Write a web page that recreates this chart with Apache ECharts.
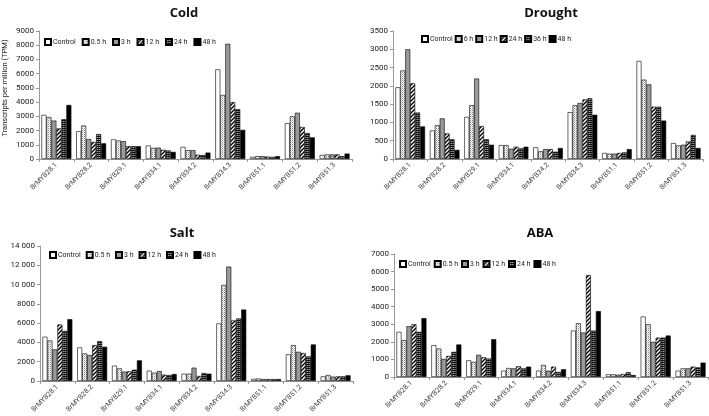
<!DOCTYPE html>
<html><head><meta charset="utf-8">
<script src="https://cdn.jsdelivr.net/npm/echarts@6/dist/echarts.min.js"></script>
<style>html,body{margin:0;padding:0;background:#fff}#c{width:709px;height:416px}</style>
</head><body><div id="c"></div><script>
// ---------- data ----------
const categories = ['BrMYB28.1','BrMYB28.2','BrMYB29.1','BrMYB34.1','BrMYB34.2','BrMYB34.3','BrMYB51.1','BrMYB51.2','BrMYB51.3'];

const coldNames = ['Control','0.5 h','3 h','12 h','24 h','48 h'];
const coldControl = [3100,1950,1380,950,850,6300,150,2520,280];
const cold05h     = [2950,2350,1300,780,620,4500,200,3000,320];
const cold3h      = [2700,1400,1250,800,620,8100,200,3250,320];
const cold12h     = [2150,1200,900,650,300,4000,170,2250,320];
const cold24h     = [2800,1750,900,600,280,3500,150,1830,200];
const cold48h     = [3800,1100,900,500,450,2050,200,1520,380];

const droughtNames = ['Control','6 h','12 h','24 h','36 h','48 h'];
const droughtControl = [1960,780,1150,380,320,1280,165,2680,435];
const drought6h      = [2420,925,1470,380,210,1470,145,2170,370];
const drought12h     = [3000,1110,2200,280,270,1530,145,2040,390];
const drought24h     = [2070,700,900,335,270,1630,165,1430,480];
const drought36h     = [1270,540,540,290,200,1660,180,1430,660];
const drought48h     = [890,250,390,335,300,1210,270,1050,300];

const saltNames = ['Control','0.5 h','3 h','12 h','24 h','48 h'];
const saltControl = [4590,3480,1590,1070,760,5970,220,2760,480];
const salt05h     = [4200,2860,1310,860,760,9970,250,3720,620];
const salt3h      = [3280,2690,970,1030,1380,11860,200,3030,450];
const salt12h     = [5860,3720,1000,650,520,6280,200,2900,480];
const salt24h     = [5200,4140,1170,620,830,6480,200,2550,480];
const salt48h     = [6410,3550,2140,720,760,7410,200,3790,590];

const abaNames = ['Control','0.5 h','3 h','12 h','24 h','48 h'];
const abaControl = [2570,1810,950,360,360,2640,150,3440,360];
const aba05h     = [2090,1620,860,510,690,3060,150,3000,490];
const aba3h      = [2890,1030,1260,490,360,2530,130,2000,490];
const aba12h     = [3000,1200,1120,610,590,5800,170,2240,590];
const aba24h     = [2570,1430,1050,490,285,2640,270,2240,550];
const aba48h     = [3350,1850,2150,590,440,3750,110,2360,820];

const coldTicks = {max:9000, interval:1000};
const droughtTicks = {max:3500, interval:500};
const saltTicks = {max:14000, interval:2000};
const abaTicks = {max:7000, interval:1000};

// ---------- patterns ----------
function tile(w,h,draw){const c=document.createElement('canvas');c.width=w;c.height=h;const x=c.getContext('2d');draw(x,w,h);return {image:c,repeat:'repeat'};}
const patWhite = '#ffffff';
const patDots = tile(2,2,(x)=>{x.fillStyle='#fff';x.fillRect(0,0,2,2);x.fillStyle='#8a8a8a';x.fillRect(0,0,1,1);x.fillStyle='#d0d0d0';x.fillRect(1,1,1,1);});
const patGray = '#9a9a9a';
const patDiag = tile(4,4,(x)=>{x.fillStyle='#fff';x.fillRect(0,0,4,4);x.strokeStyle='#000';x.lineWidth=1.4;x.beginPath();x.moveTo(-1,5);x.lineTo(5,-1);x.moveTo(-1,1);x.lineTo(1,-1);x.moveTo(3,5);x.lineTo(5,3);x.stroke();});
const patCheck = tile(2,2,(x)=>{x.fillStyle='#111';x.fillRect(0,0,2,2);x.fillStyle='#9a9a9a';x.fillRect(1,1,1,1);x.fillStyle='#555';x.fillRect(0,1,1,1);});
const patBlack = '#000000';
const fills = [patWhite,patDots,patGray,patDiag,patCheck,patBlack];

// ---------- build ----------
const panels = [
  {key:'Cold', names:coldNames, data:[coldControl,cold05h,cold3h,cold12h,cold24h,cold48h], ticks:coldTicks,
   grid:{left:38,top:31,width:314,height:128}, title:{x:179,y:2}, legend:{left:44,top:38,gap:6}},
  {key:'Drought', names:droughtNames, data:[droughtControl,drought6h,drought12h,drought24h,drought36h,drought48h], ticks:droughtTicks,
   grid:{left:393,top:31,width:310,height:128}, title:{x:546,y:2}, legend:{left:421,top:35,gap:2}},
  {key:'Salt', names:saltNames, data:[saltControl,salt05h,salt3h,salt12h,salt24h,salt48h], ticks:saltTicks,
   grid:{left:40,top:246,width:313,height:135}, title:{x:177,y:222}, legend:{left:49,top:251,gap:5}},
  {key:'ABA', names:abaNames, data:[abaControl,aba05h,aba3h,aba12h,aba24h,aba48h], ticks:abaTicks,
   grid:{left:394,top:254,width:314,height:123}, title:{x:535,y:222}, legend:{left:399,top:260,gap:3}}
];

const font = 'Roboto, Open Sans, sans-serif';
const option = {animation:false, backgroundColor:'#fff', title:[], grid:[], xAxis:[], yAxis:[], legend:[], series:[]};
panels.forEach((p,i)=>{
  option.title.push({text:p.key, left:p.title.x, top:p.title.y, textAlign:'center',
    textStyle:{fontFamily:'Open Sans, sans-serif', fontSize:13, fontWeight:'bold', color:'#111'}});
  option.grid.push(Object.assign({containLabel:false}, p.grid));
  option.xAxis.push({type:'category', gridIndex:i, data:categories,
    axisLine:{lineStyle:{color:'#999',width:1}}, axisTick:{show:true,length:3,lineStyle:{color:'#999'}},
    axisLabel:{rotate:45, fontSize:7, color:'#444', fontFamily:font, margin:5, interval:0}});
  const y = {type:'value', gridIndex:i, min:0, max:p.ticks.max, interval:p.ticks.interval,
    splitLine:{show:false}, axisLine:{show:true,lineStyle:{color:'#999'}}, axisTick:{show:true,length:3,lineStyle:{color:'#999'}},
    axisLabel:{fontSize:8, color:'#222', fontFamily:font, margin:5,
      formatter:v=> v>=10000 ? String(Math.floor(v/1000))+' '+String(v%1000).padStart(3,'0') : String(v)}};
  if(i===0){ y.name='Transcripts per million (TPM)'; y.nameLocation='middle'; y.nameGap=30;
    y.nameTextStyle={fontSize:7.5,color:'#222',fontFamily:font,padding:[0,0,0,14]}; }
  option.yAxis.push(y);
  const seriesNames = p.names.map(n=>p.key+'|'+n);
  option.legend.push({data:seriesNames, left:p.legend.left, top:p.legend.top, itemWidth:6, itemHeight:6, itemGap:p.legend.gap,
    icon:'rect', formatter:n=>n.split('|')[1], selectedMode:false,
    textStyle:{fontSize:7, color:'#222', fontFamily:font, padding:[0,0,0,-3]}, padding:0});
  p.data.forEach((arr,k)=>{
    option.series.push({type:'bar', name:seriesNames[k], xAxisIndex:i, yAxisIndex:i, data:arr,
      barGap:'0%', barCategoryGap:'14%',
      itemStyle:{color:fills[k], borderColor:'#000', borderWidth:0.6}});
  });
});
const chart = echarts.init(document.getElementById('c'), null, {renderer:'canvas'});
chart.setOption(option);
</script></body></html>
